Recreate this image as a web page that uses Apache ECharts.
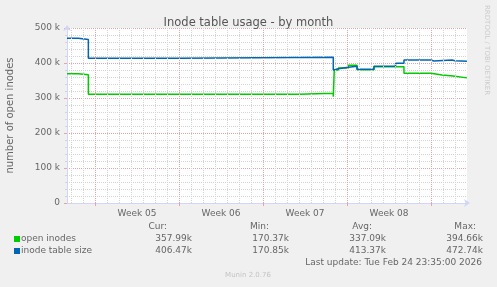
<!DOCTYPE html>
<html>
<head>
<meta charset="utf-8">
<script src="https://cdn.jsdelivr.net/npm/echarts@6/dist/echarts.min.js"></script>
<style>
html,body{margin:0;padding:0;background:#f0f0f0;}
#c{width:497px;height:287px;}
</style>
</head>
<body>
<div id="c"></div>
<script>
// x values are days from the left edge of the plot
const openDays   = [0, 0.94, 1.78, 19.36, 22.19, 22.27, 22.61, 23.44, 24.17, 25.58, 28.08, 30.33, 31.25, 32.17, 33.33];
const openValues = [369500, 366600, 310600, 313400, 303700, 380000, 386000, 393500, 381000, 389500, 370600, 365700, 362900, 357500, 357500];
const sizeDays   = [0, 0.94, 1.78, 9.42, 22.19, 22.27, 22.61, 23.44, 24.17, 25.58, 27.38, 28.08, 30.33, 30.58, 32.08, 32.33, 33.33];
const sizeValues = [470600, 467000, 413400, 416500, 380000, 383700, 387700, 391000, 382000, 390600, 399000, 408600, 405700, 408600, 406500, 405300, 405300];

const weekLabels = ['Week 05', 'Week 06', 'Week 07', 'Week 08'];
const weekLabelDays = [5.833, 12.833, 19.833, 26.833];
const weekLineDays = [2.333, 9.333, 16.333, 23.333, 30.333];
const dayLineDays = [0.333, 1.333, 3.333, 4.333, 5.333, 6.333, 7.333, 8.333, 10.333, 11.333, 12.333, 13.333, 14.333, 15.333, 17.333, 18.333, 19.333, 20.333, 21.333, 22.333, 24.333, 25.333, 26.333, 27.333, 28.333, 29.333, 31.333, 32.333];

const seriesNames = ['open inodes', 'inode table size'];
const seriesColors = ['#00cc00', '#0066b3'];
const curValues = ['357.99k', '406.47k'];
const minValues = ['170.37k', '170.85k'];
const avgValues = ['337.09k', '413.37k'];
const maxValues = ['394.66k', '472.74k'];
const statHeaders = ['Cur:', 'Min:', 'Avg:', 'Max:'];

const FONT = 'DejaVu Sans';
const TXT = '#666666';
const MINOR = '#d4d4d4';
const MAJOR = '#eda2a2';
const HALF_PX = 0.5 / 12; // keeps 1px grid lines crisp

function pairs(xs, ys){ return xs.map((x,i)=>[x, ys[i]]); }

const chart = echarts.init(document.getElementById('c'), null, {renderer:'canvas'});

// legend / stats graphics
const gfx = [];
const headerRight = [167, 269, 372, 476];
const valueRight = [192, 289, 386, 483];
statHeaders.forEach((h,i)=>gfx.push({type:'text', x:headerRight[i], y:227, style:{text:h, align:'right', verticalAlign:'middle', font:'9px "'+FONT+'"', fill:TXT}}));
const statCols = [curValues, minValues, avgValues, maxValues];
seriesNames.forEach((n,r)=>{
  const y = 239 + r*12;
  gfx.push({type:'rect', shape:{x:14, y:y-3, width:6, height:6}, style:{fill:seriesColors[r]}});
  gfx.push({type:'text', x:21, y:y, style:{text:n, align:'left', verticalAlign:'middle', font:'9px "'+FONT+'"', fill:TXT}});
  statCols.forEach((col,c)=>gfx.push({type:'text', x:valueRight[c], y:y, style:{text:col[r], align:'right', verticalAlign:'middle', font:'9px "'+FONT+'"', fill:TXT}}));
});
gfx.push({type:'text', x:482, y:263, style:{text:'Last update: Tue Feb 24 23:35:00 2026', align:'right', verticalAlign:'middle', font:'9px "'+FONT+'"', fill:TXT}});
gfx.push({type:'text', x:248, y:275, style:{text:'Munin 2.0.76', align:'center', verticalAlign:'middle', font:'7px "'+FONT+'"', fill:'#c4c4c4'}});
gfx.push({type:'text', x:487, y:5, rotation:-Math.PI/2, style:{text:'RRDTOOL / TOBI OETIKER', align:'left', verticalAlign:'middle', font:'7px "'+FONT+'"', fill:'#cccccc'}});

chart.setOption({
  backgroundColor:'#f0f0f0',
  animation:false,
  title:{text:'Inode table usage - by month', left:'center', top:12, textStyle:{fontFamily:FONT, fontSize:11.5, fontWeight:'normal', color:'#555555'}},
  grid:{left:67, right:30, top:28, bottom:84, show:true, backgroundColor:'#ffffff', borderWidth:0, containLabel:false, outerBoundsMode:'none'},
  xAxis:{
    type:'value', min:0, max:33.333,
    axisLine:{show:true, lineStyle:{color:'#cfd6f8', width:1}, symbol:['none','arrow'], symbolSize:[6,6], symbolOffset:[0,3]},
    axisTick:{show:true, customValues:weekLineDays.map(d=>d+HALF_PX), length:3, lineStyle:{color:MAJOR}},
    axisLabel:{show:true, customValues:weekLabelDays, formatter:(v)=>{const i=weekLabelDays.findIndex(d=>Math.abs(d-v)<0.01); return i>=0?weekLabels[i]:'';}, fontFamily:FONT, fontSize:9, color:TXT, margin:6},
    splitLine:{show:false}
  },
  yAxis:{
    type:'value', min:0, max:500000, interval:100000,
    name:'number of open inodes', nameLocation:'middle', nameRotate:90, nameGap:52,
    nameTextStyle:{fontFamily:FONT, fontSize:10, color:TXT},
    axisLine:{show:true, lineStyle:{color:'#cfd6f8', width:1}, symbol:['none','arrow'], symbolSize:[6,6], symbolOffset:[0,3]},
    axisTick:{show:true, length:3, lineStyle:{color:MAJOR}},
    minorTick:{show:true, splitNumber:5, length:2, lineStyle:{color:MINOR}},
    axisLabel:{formatter:(v)=>v===0?'0':(v/1000)+' k', fontFamily:FONT, fontSize:9, color:TXT, margin:7},
    splitLine:{show:true, lineStyle:{color:MAJOR, type:[1,1], width:1}},
    minorSplitLine:{show:true, lineStyle:{color:MINOR, type:[1,1], width:1}}
  },
  series:[
    {type:'line', name:'dayGrid', data:[], z:1, silent:true, itemStyle:{color:MINOR}, lineStyle:{color:MINOR},
     markLine:{silent:true, symbol:'none', label:{show:false}, animation:false, lineStyle:{color:MINOR, type:[1,1], width:1, opacity:1},
       data:dayLineDays.map(d=>({xAxis:d + HALF_PX}))}},
    {type:'line', name:'weekGrid', data:[], z:2, silent:true, itemStyle:{color:MAJOR}, lineStyle:{color:MAJOR},
     markLine:{silent:true, symbol:'none', label:{show:false}, animation:false, lineStyle:{color:MAJOR, type:[1,1], width:1, opacity:1},
       data:weekLineDays.map(d=>({xAxis:d + HALF_PX}))}},
    {type:'line', name:seriesNames[0], data:pairs(openDays, openValues), step:'end', showSymbol:false, symbol:'none', z:3, lineStyle:{color:seriesColors[0], width:1.5}},
    {type:'line', name:seriesNames[1], data:pairs(sizeDays, sizeValues), step:'end', showSymbol:false, symbol:'none', z:4, lineStyle:{color:seriesColors[1], width:1.5}}
  ],
  graphic:gfx
});
</script>
</body>
</html>
